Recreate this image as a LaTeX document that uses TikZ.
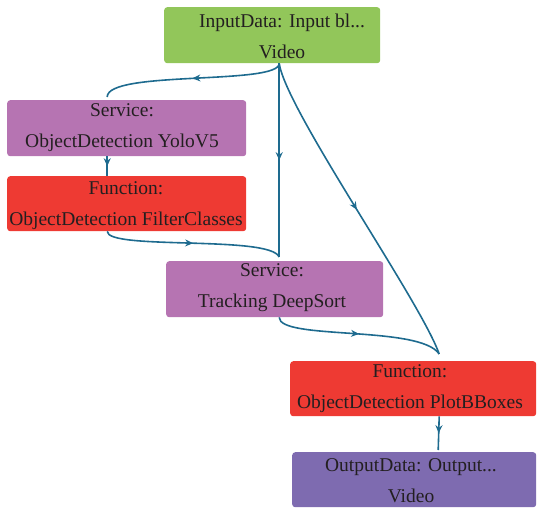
\documentclass[tikz,border=0pt]{standalone}
\usepackage{fontspec}
\setmainfont{Liberation Serif}
\usetikzlibrary{decorations.markings,arrows.meta}
\definecolor{cgreen}{HTML}{92C65A}
\definecolor{cpurple}{HTML}{B674B2}
\definecolor{cred}{HTML}{EE3A33}
\definecolor{cviolet}{HTML}{7E6BB0}
\definecolor{cedge}{HTML}{1E6B8F}
\definecolor{ctext}{HTML}{231F20}
\tikzset{
  box/.style={rounded corners=3pt, inner sep=0pt, anchor=north west},
  lbl/.style={font=\fontsize{19.5}{31}\selectfont, text=ctext, align=center, inner sep=0pt},
  conn/.style={draw=cedge, line width=1.6pt, postaction={decorate},
    decoration={markings, mark=at position 0.5 with {\arrow{Stealth[length=8pt,width=7pt]}}}},
}
\begin{document}
\begin{tikzpicture}[x=1pt,y=-1pt]
\useasboundingbox (0,0) rectangle (537,509);
% boxes
\node[box, fill=cgreen, minimum width=216pt, minimum height=56pt] (in) at (164,7) {};
\node[box, fill=cpurple, minimum width=239pt, minimum height=56pt] (yolo) at (7,100) {};
\node[box, fill=cred, minimum width=239pt, minimum height=55pt] (filt) at (7,176) {};
\node[box, fill=cpurple, minimum width=217pt, minimum height=56pt] (ds) at (166,261) {};
\node[box, fill=cred, minimum width=246pt, minimum height=55pt] (plot) at (290,361) {};
\node[box, fill=cviolet, minimum width=244pt, minimum height=55pt] (out) at (292,452) {};
% labels
\node[lbl] (tin) at (282,36.5) {InputData: Input bl...\\Video};
\node[lbl] (tyolo) at (122,128) {Service:\\ObjectDetection YoloV5};
\node[lbl] (tfilt) at (126,205.5) {Function:\\ObjectDetection FilterClasses};
\node[lbl] (tds) at (272,288) {Service:\\Tracking DeepSort};
\node[lbl] (tplot) at (410,388.5) {Function:\\ObjectDetection PlotBBoxes};
\node[lbl] (tout) at (411,481) {OutputData: Output...\\Video};
% connectors
\draw[conn] ([xshift=7pt]in.south) .. controls +(0,22) and (107,70) .. ([xshift=-19.5pt,yshift=3pt]yolo.north);
\draw[conn] ([xshift=7pt]in.south) -- ([xshift=4.5pt,yshift=4pt]ds.north);
\draw[conn] ([xshift=7pt]in.south) .. controls +(7,47) and (420,300) .. ([xshift=26pt,yshift=7pt]plot.north);
\draw[conn] ([xshift=-19.5pt]yolo.south) -- ([xshift=-19.5pt]filt.north);
\draw[conn] ([xshift=-19.5pt]filt.south) .. controls +(0,19) and (270,235) .. ([xshift=4.5pt,yshift=4pt]ds.north);
\draw[conn] ([xshift=4.5pt]ds.south) .. controls +(0,23) and (420,325) .. ([xshift=26pt,yshift=7pt]plot.north);
\draw[conn] ([xshift=26pt]plot.south) -- ([xshift=24pt,yshift=2pt]out.north);
\end{tikzpicture}
\end{document}
